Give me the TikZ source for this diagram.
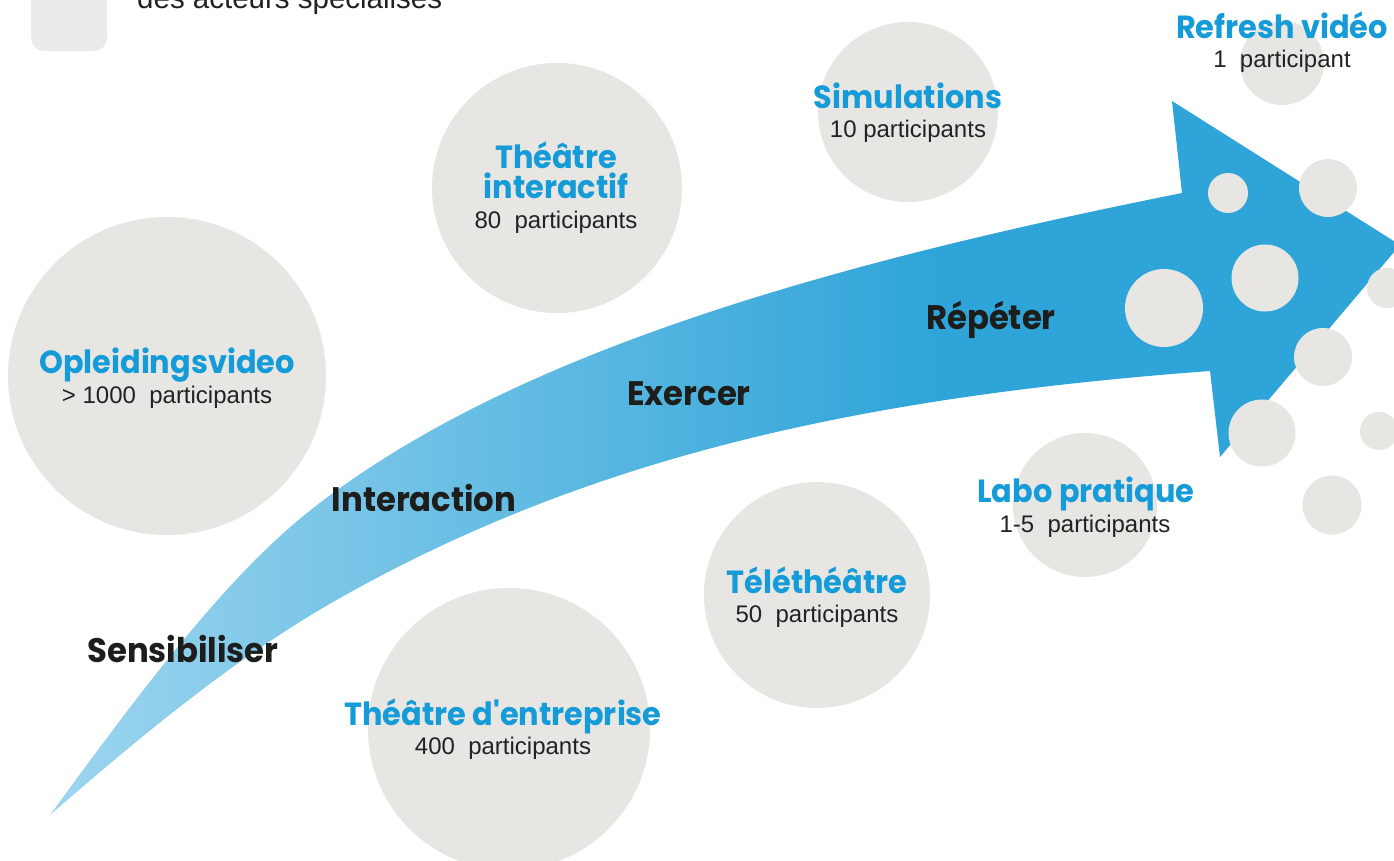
\documentclass[tikz,border=0pt]{standalone}
\usepackage{fontspec}
\setmainfont{Liberation Sans}
\newfontfamily\helv{Liberation Sans}
\newfontfamily\futura{Poppins}[FakeStretch=0.95]
\definecolor{circgrey}{RGB}{232,230,226}
\definecolor{boxgrey}{RGB}{236,235,233}
\definecolor{titleblue}{RGB}{20,155,216}
\definecolor{darktext}{RGB}{29,29,27}
\definecolor{subtext}{RGB}{34,34,34}
\definecolor{arrowlight}{RGB}{157,213,239}
\definecolor{arrowdark}{RGB}{46,164,216}
\pgfdeclarehorizontalshading{arrowshade}{100bp}{color(0bp)=(arrowlight); color(25bp)=(arrowlight); color(58bp)=(arrowdark); color(100bp)=(arrowdark)}
\tikzset{
  bubble/.style={circle, fill=circgrey, draw=none, inner sep=0pt},
  ttl/.style={font=\futura\bfseries\fontsize{32}{32}\selectfont, text=titleblue, inner sep=0pt, anchor=base},
  sub/.style={font=\helv\fontsize{24}{24}\selectfont, text=subtext, inner sep=0pt, anchor=base},
  stage/.style={font=\futura\bfseries\fontsize{34}{34}\selectfont, text=darktext, inner sep=0pt, anchor=base},
}
\begin{document}
\begin{tikzpicture}[x=1pt,y=-1pt]
\useasboundingbox (0,0) rectangle (1394,861);
\clip (0,0) rectangle (1394,861);
\fill[white] (0,0) rectangle (1394,861);
% top-left box and text
\fill[boxgrey, rounded corners=13pt] (31,-30) rectangle (107,51);
\node[font=\helv\fontsize{29.5}{29.5}\selectfont, text=subtext, inner sep=0pt, anchor=base west] (hdr) at (137,9) {des acteurs spécialisés};
% arrow
\shade[shading=arrowshade] (50,815) .. controls (135,699) and (222,581) .. (307,513)
  .. controls (507,353) and (832,263) .. (1182,193)
  -- (1172,101) -- (1400,245) -- (1220,457) -- (1210,371)
  .. controls (860,397) and (590,457) .. (340,598)
  .. controls (240,654.5) and (150,728) .. (50,815) -- cycle;
% large bubbles
\node[bubble, minimum size=318pt] (opl) at (167,376) {};
\node[bubble, minimum size=250pt] (thi) at (557,188) {};
\node[bubble, minimum size=180pt] (sim) at (908,112) {};
\node[bubble, minimum size=84pt] (ref) at (1282,63) {};
\node[bubble, minimum size=144pt] (lab) at (1085,505) {};
\node[bubble, minimum size=226pt] (tel) at (817,595) {};
\node[bubble, minimum size=282pt] (ent) at (509,729) {};
% small bubbles in the head
\node[bubble, minimum size=40pt] (s1) at (1228,193) {};
\node[bubble, minimum size=58pt] (s2) at (1328,188) {};
\node[bubble, minimum size=67pt] (s3) at (1265,278) {};
\node[bubble, minimum size=78pt] (s4) at (1164,308) {};
\node[bubble, minimum size=40pt] (s5) at (1387,288) {};
\node[bubble, minimum size=58pt] (s6) at (1323,357) {};
\node[bubble, minimum size=67pt] (s7) at (1262,433) {};
\node[bubble, minimum size=38pt] (s8) at (1379,431) {};
\node[bubble, minimum size=59pt] (s9) at (1332,505) {};
% stage labels
\node[stage] (l1) at (183,662) {Sensibiliser};
\node[stage] (l2) at (424,511) {Interaction};
\node[stage] (l3) at (689,405) {Exercer};
\node[stage] (l4) at (991,329) {Répéter};
% bubble texts
\node[ttl] (t1) at (167,373) {Opleidingsvideo};
\node[sub] (p1) at (167,403) {> 1000\ \ participants};
\node[ttl] (t2a) at (556,169) {Théâtre};
\node[ttl] (t2b) at (556,198) {interactif};
\node[sub] (p2) at (556,228) {80\ \ participants};
\node[ttl] (t3) at (908,109) {Simulations};
\node[sub] (p3) at (908,138) {10 participants};
\node[ttl] (t4) at (1282,39) {Refresh vidéo};
\node[sub] (p4) at (1282,68) {1\ \ participant};
\node[ttl] (t5) at (1086,502) {Labo pratique};
\node[sub] (p5) at (1085,532) {1-5\ \ participants};
\node[ttl] (t6) at (817,593) {Téléthéâtre};
\node[sub] (p6) at (817,622) {50\ \ participants};
\node[ttl] (t7) at (503,725) {Théâtre d'entreprise};
\node[sub] (p7) at (503,754) {400\ \ participants};
\end{tikzpicture}
\end{document}
